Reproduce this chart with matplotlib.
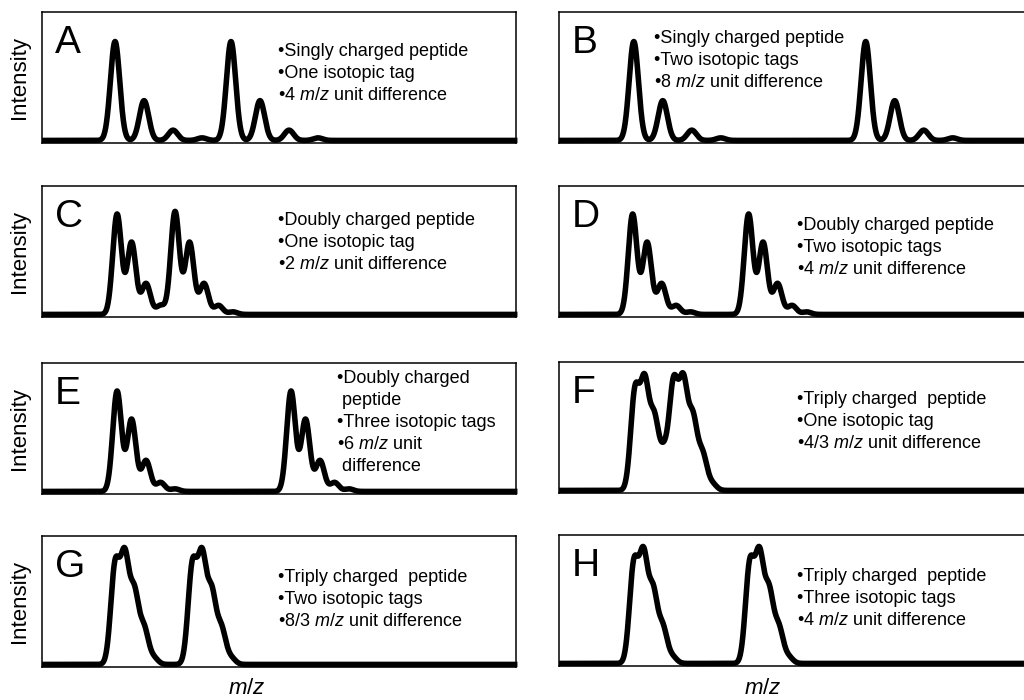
import numpy as np
import matplotlib
matplotlib.use("Agg")
import matplotlib.pyplot as plt

plt.rcParams["font.family"] = ["Liberation Sans", "DejaVu Sans"]
plt.rcParams["mathtext.fontset"] = "custom"
plt.rcParams["mathtext.rm"] = "Liberation Sans"
plt.rcParams["mathtext.it"] = "Liberation Sans:italic"

# Panel letters
panel_labels = ["A", "B", "C", "D", "E", "F", "G", "H"]

# Charge state per panel (isotope spacing is 1/charge in m/z)
charges = [1, 1, 2, 2, 2, 3, 3, 3]

# m/z of the first (monoisotopic) peak of the light form, per panel
mono_mz = [2.52, 2.58, 2.59, 2.54, 2.59, 2.62, 2.52, 2.58]

# m/z difference between the labelled forms, per panel
tag_shift = [4.0, 8.0, 2.0, 4.0, 6.0, 4 / 3, 8 / 3, 4.0]

# Relative isotope intensities by charge state
isotopes_1 = [0.77, 0.31, 0.08, 0.02]
isotopes_2 = [0.78, 0.56, 0.24, 0.07, 0.02]
isotopes_3 = [0.75, 0.80, 0.53, 0.27, 0.05]
peak_sigma = {1: 0.16, 2: 0.15, 3: 0.15}

# Annotation lines per panel
notes = [
    ["•Singly charged peptide", "•One isotopic tag", "•4 $m/z$ unit difference"],
    ["•Singly charged peptide", "•Two isotopic tags", "•8 $m/z$ unit difference"],
    ["•Doubly charged peptide", "•One isotopic tag", "•2 $m/z$ unit difference"],
    ["•Doubly charged peptide", "•Two isotopic tags", "•4 $m/z$ unit difference"],
    ["•Doubly charged", " peptide", "•Three isotopic tags", "•6 $m/z$ unit", " difference"],
    ["•Triply charged  peptide", "•One isotopic tag", "•4/3 $m/z$ unit difference"],
    ["•Triply charged  peptide", "•Two isotopic tags", "•8/3 $m/z$ unit difference"],
    ["•Triply charged  peptide", "•Three isotopic tags", "•4 $m/z$ unit difference"],
]

isotope_table = {1: isotopes_1, 2: isotopes_2, 3: isotopes_3}

W, H = 1024, 700
fig = plt.figure(figsize=(W / 100, H / 100), dpi=100)

# axes boxes in pixels: left, top, width, height
col_left = [42, 559]
row_top = [[12, 12], [186, 186], [363, 362], [536, 535]]
ax_w, ax_h = 474, 131

# note placement (axes fraction of first line)
note_pos = [(0.498, 0.695), (0.200, 0.800), (0.498, 0.733), (0.502, 0.695),
            (0.622, 0.878), (0.502, 0.710), (0.498, 0.687), (0.502, 0.687)]

mz = np.linspace(0, 16.4, 3000)

for i, lab in enumerate(panel_labels):
    r, c = divmod(i, 2)
    x0, y0 = col_left[c], row_top[r][c]
    ax = fig.add_axes([x0 / W, 1 - (y0 + ax_h) / H, ax_w / W, ax_h / H])
    z = charges[i]
    iso = isotope_table[z]
    s = peak_sigma[z]
    spec = np.zeros_like(mz)
    for start in (mono_mz[i], mono_mz[i] + tag_shift[i]):
        for k, h in enumerate(iso):
            spec += h * np.exp(-((mz - (start + k / z)) ** 2) / (2 * s * s))
    ax.plot(mz, spec, color="black", lw=4.0, solid_joinstyle="round",
            solid_capstyle="butt", clip_on=False, zorder=3)
    ax.set_xlim(0, 16.35)
    ax.set_ylim(-0.02, 1.0)
    ax.set_xticks([])
    ax.set_yticks([])
    for sp in ax.spines.values():
        sp.set_linewidth(1.1)
        sp.set_color("black")
    ax.text(0.027, 0.69, lab, transform=ax.transAxes, fontsize=28,
            ha="left", va="baseline")
    nx, ny = note_pos[i]
    for j, line in enumerate(notes[i]):
        ax.text(nx, ny - j * 22 / ax_h, line, transform=ax.transAxes,
                fontsize=13, ha="left", va="center")
    if c == 0:
        fig.text(20 / W, 1 - (y0 + ax_h / 2) / H, "Intensity", rotation=90,
                 fontsize=16, ha="center", va="center")

for xc in (247, 763):
    fig.text(xc / W, 1 - 688 / H, "$m/z$", fontsize=16, ha="center", va="center")

fig.savefig("out.png", dpi=100)
